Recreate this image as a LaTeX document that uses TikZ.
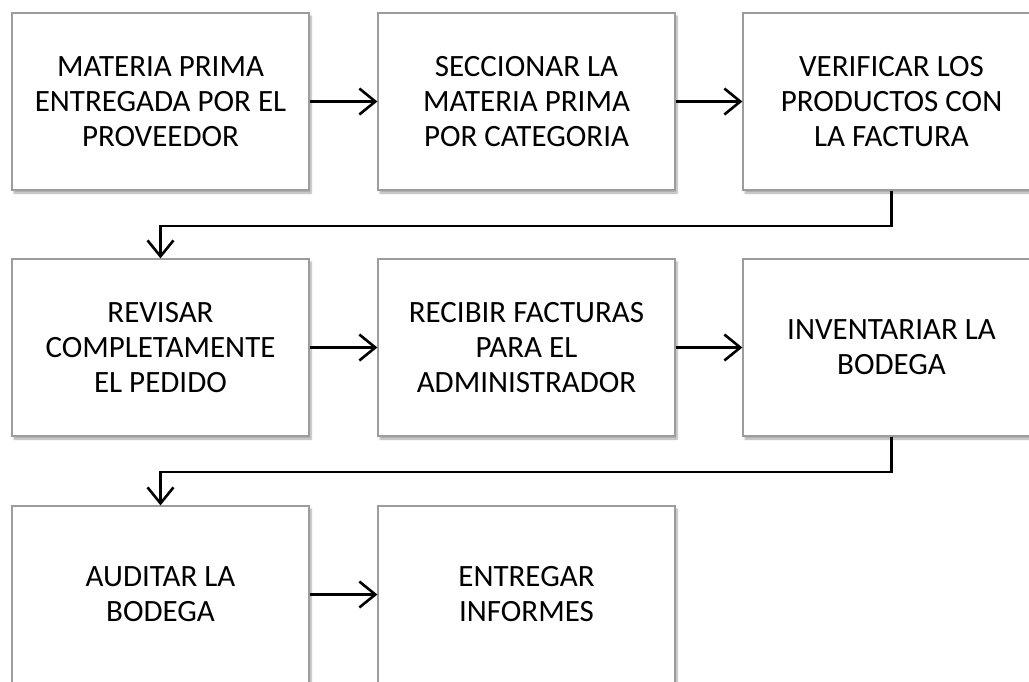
\documentclass[tikz,border=0pt]{standalone}
\usepackage{fontspec}
\setmainfont{Carlito}
\usetikzlibrary{arrows.meta,calc,shadows.blur}
\definecolor{boxline}{HTML}{9C9C9C}
\begin{document}
\begin{tikzpicture}[x=1pt,y=-1pt,
  flowbox/.style={draw=boxline, line width=1.2pt, fill=white,
    minimum width=297pt, minimum height=177pt, inner sep=0pt,
    align=center, font=\fontsize{31}{35}\selectfont,
    blur shadow={shadow xshift=2pt, shadow yshift=-3pt, shadow blur steps=6, shadow opacity=35}},
  arr/.style={line width=2.6pt, -{Straight Barb[length=16pt,width=26pt,line width=2.6pt]}}]
\useasboundingbox (0,0) rectangle (1029,681);
\clip (0,0) rectangle (1029,681);
\node[flowbox] (b1) at (160.5,101.5) {MATERIA PRIMA\\ENTREGADA POR EL\\PROVEEDOR};
\node[flowbox] (b2) at (526.5,101.5) {SECCIONAR LA\\MATERIA PRIMA\\POR CATEGORIA};
\node[flowbox] (b3) at (891.5,101.5) {VERIFICAR LOS\\PRODUCTOS CON\\LA FACTURA};
\node[flowbox] (b4) at (160.5,347.5) {REVISAR\\COMPLETAMENTE\\EL PEDIDO};
\node[flowbox] (b5) at (526.5,347.5) {RECIBIR FACTURAS\\PARA EL\\ADMINISTRADOR};
\node[flowbox] (b6) at (891.5,347.5) {INVENTARIAR LA\\BODEGA};
\node[flowbox] (b7) at (160.5,594.5) {AUDITAR LA\\BODEGA};
\node[flowbox] (b8) at (526.5,594.5) {ENTREGAR\\INFORMES};
\coordinate (m1) at ($(b3.south)+(0,35.5)$);
\coordinate (m2) at ($(b6.south)+(0,35.5)$);
\draw[arr] (b1.east) -- (b2.west);
\draw[arr] (b2.east) -- (b3.west);
\draw[arr] (b3.south) -- (m1) -| (b4.north);
\draw[arr] (b4.east) -- (b5.west);
\draw[arr] (b5.east) -- (b6.west);
\draw[arr] (b6.south) -- (m2) -| (b7.north);
\draw[arr] (b7.east) -- (b8.west);
\end{tikzpicture}
\end{document}
